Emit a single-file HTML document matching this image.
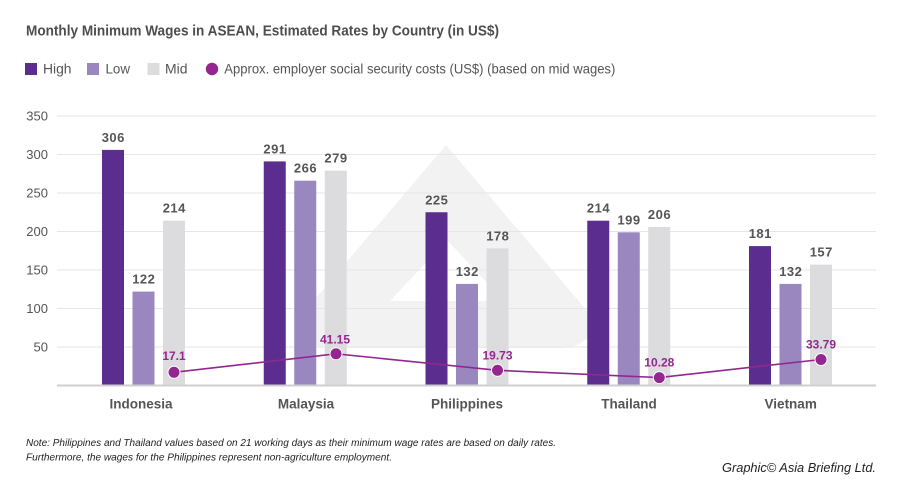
<!DOCTYPE html>
<html><head><meta charset="utf-8"><style>
html,body{margin:0;padding:0;background:#fff;}
svg{display:block;}
text{font-family:"Liberation Sans",sans-serif;}
</style></head><body>
<svg width="900" height="495" viewBox="0 0 900 495" xmlns="http://www.w3.org/2000/svg">
<rect width="900" height="495" fill="#fff"/>
<!-- title -->
<text x="26" y="35.7" font-size="15" font-weight="bold" fill="#4d4d4d" textLength="473" lengthAdjust="spacingAndGlyphs">Monthly Minimum Wages in ASEAN, Estimated Rates by Country (in US$)</text>
<!-- legend -->
<rect x="25" y="63" width="12" height="12" fill="#5b2d8e"/>
<text x="43" y="73.5" font-size="14" fill="#555" textLength="28.5" lengthAdjust="spacingAndGlyphs">High</text>
<rect x="87" y="63" width="12" height="12" fill="#9b87c0"/>
<text x="105.5" y="73.5" font-size="14" fill="#555" textLength="24.5" lengthAdjust="spacingAndGlyphs">Low</text>
<rect x="147.5" y="63" width="12" height="12" fill="#dcdcde"/>
<text x="165" y="73.5" font-size="14" fill="#555" textLength="22.5" lengthAdjust="spacingAndGlyphs">Mid</text>
<circle cx="212" cy="69" r="6.2" fill="#93278f"/>
<text x="224.3" y="73.5" font-size="14" fill="#555" textLength="391" lengthAdjust="spacingAndGlyphs">Approx. employer social security costs (US$) (based on mid wages)</text>

<!-- watermark -->
<path d="M446 145 L588 312 Q600 330 585 340 Q575 348 560 348 L332 348 Q317 348 307 340 Q292 330 304 312 Z" fill="#f2f2f3"/>
<path d="M447 240 L504 301 L390 301 Z" fill="#fff"/>

<!-- gridlines -->
<g stroke="#e6e6e6" stroke-width="1">
<line x1="57" x2="876" y1="116" y2="116"/>
<line x1="57" x2="876" y1="154.5" y2="154.5"/>
<line x1="57" x2="876" y1="193" y2="193"/>
<line x1="57" x2="876" y1="231.5" y2="231.5"/>
<line x1="57" x2="876" y1="270" y2="270"/>
<line x1="57" x2="876" y1="308.5" y2="308.5"/>
<line x1="57" x2="876" y1="347" y2="347"/>
</g>
<!-- y labels -->
<g font-size="13" fill="#555" text-anchor="end">
<text x="48" y="120.7">350</text>
<text x="48" y="159.2">300</text>
<text x="48" y="197.7">250</text>
<text x="48" y="236.2">200</text>
<text x="48" y="274.7">150</text>
<text x="48" y="313.2">100</text>
<text x="48" y="351.7">50</text>
</g>

<!-- bars -->
<g>
<!-- Indonesia c=143.5 -->
<rect x="102" y="149.9" width="22" height="235.6" fill="#5b2d8e"/>
<rect x="132.5" y="291.6" width="22" height="93.9" fill="#9b87c0"/>
<rect x="163" y="220.7" width="22" height="164.8" fill="#dcdcde"/>
<!-- Malaysia c=305.25 -->
<rect x="263.75" y="161.4" width="22" height="224.1" fill="#5b2d8e"/>
<rect x="294.25" y="180.7" width="22" height="204.8" fill="#9b87c0"/>
<rect x="324.75" y="170.7" width="22" height="214.8" fill="#dcdcde"/>
<!-- Philippines c=467 -->
<rect x="425.5" y="202.25" width="22" height="173.25" fill="#5b2d8e" transform="translate(0,10)"/>
<rect x="456" y="283.9" width="22" height="101.6" fill="#9b87c0"/>
<rect x="486.5" y="248.4" width="22" height="137.1" fill="#dcdcde"/>
<!-- Thailand c=628.75 -->
<rect x="587.25" y="220.7" width="22" height="164.8" fill="#5b2d8e"/>
<rect x="617.75" y="232.3" width="22" height="153.2" fill="#9b87c0"/>
<rect x="648.25" y="226.9" width="22" height="158.6" fill="#dcdcde"/>
<!-- Vietnam c=790.5 -->
<rect x="749" y="246.1" width="22" height="139.4" fill="#5b2d8e"/>
<rect x="779.5" y="283.9" width="22" height="101.6" fill="#9b87c0"/>
<rect x="810" y="264.6" width="22" height="120.9" fill="#dcdcde"/>
</g>

<!-- value labels -->
<g font-size="13" font-weight="bold" fill="#555" text-anchor="middle" letter-spacing="0.5">
<text x="113.3" y="141.9">306</text>
<text x="143.8" y="283.6">122</text>
<text x="174.3" y="212.7">214</text>
<text x="275" y="153.4">291</text>
<text x="305.5" y="172.7">266</text>
<text x="336" y="162.7">279</text>
<text x="436.8" y="204.25">225</text>
<text x="467.3" y="275.9">132</text>
<text x="497.8" y="240.4">178</text>
<text x="598.5" y="212.7">214</text>
<text x="629" y="224.3">199</text>
<text x="659.5" y="218.9">206</text>
<text x="760.3" y="238.1">181</text>
<text x="790.8" y="275.9">132</text>
<text x="821.3" y="256.6">157</text>
</g>

<!-- axis baseline -->
<line x1="57" x2="876" y1="385.5" y2="385.5" stroke="#cfcfcf" stroke-width="2"/>

<!-- category labels -->
<g font-size="13.5" font-weight="bold" fill="#555" text-anchor="middle">
<text x="141" y="408.5">Indonesia</text>
<text x="306" y="408.5">Malaysia</text>
<text x="467" y="408.5">Philippines</text>
<text x="629" y="408.5">Thailand</text>
<text x="790.7" y="408.5">Vietnam</text>
</g>

<!-- line series -->
<polyline points="174,372.3 336,353.8 497.5,370.3 659.3,377.6 821,359.5" fill="none" stroke="#93278f" stroke-width="1.6"/>
<g fill="#93278f" stroke="#fff" stroke-width="1">
<circle cx="174" cy="372.3" r="6"/>
<circle cx="336" cy="353.8" r="6"/>
<circle cx="497.5" cy="370.3" r="6"/>
<circle cx="659.3" cy="377.6" r="6"/>
<circle cx="821" cy="359.5" r="6"/>
</g>
<g font-size="12" font-weight="bold" fill="#93278f" text-anchor="middle">
<text x="174" y="360">17.1</text>
<text x="335" y="343.3">41.15</text>
<text x="497.5" y="359.5">19.73</text>
<text x="659.3" y="366.6">10.28</text>
<text x="821" y="348.5">33.79</text>
</g>

<!-- notes -->
<text x="26" y="446" font-size="10" font-style="italic" fill="#222" textLength="530" lengthAdjust="spacingAndGlyphs">Note: Philippines and Thailand values based on 21 working days as their minimum wage rates are based on daily rates.</text>
<text x="26" y="460.5" font-size="10" font-style="italic" fill="#222" textLength="366" lengthAdjust="spacingAndGlyphs">Furthermore, the wages for the Philippines represent non-agriculture employment.</text>
<text x="722" y="472" font-size="13" font-style="italic" fill="#222" textLength="154" lengthAdjust="spacingAndGlyphs">Graphic© Asia Briefing Ltd.</text>
</svg>
</body></html>
